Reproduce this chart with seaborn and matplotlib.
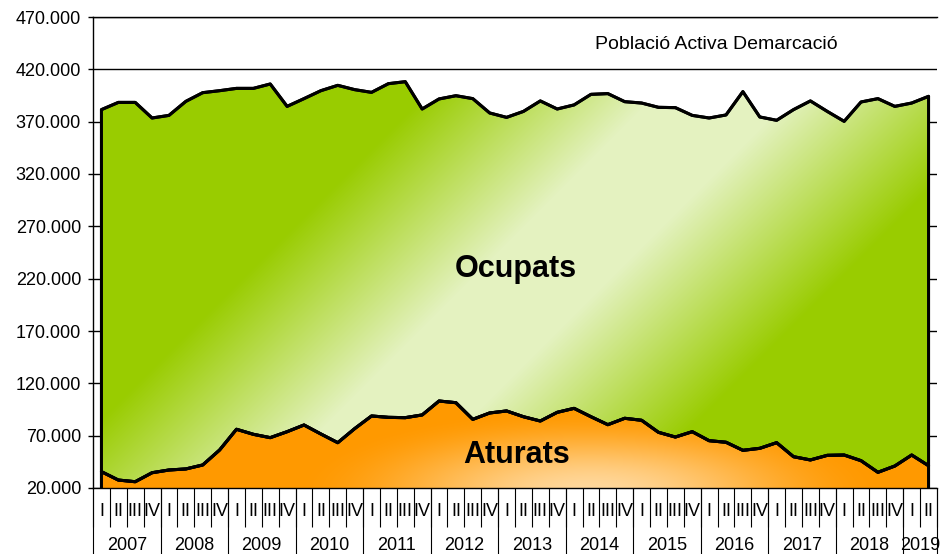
import numpy as np
import pandas as pd
import matplotlib
matplotlib.use("Agg")
import matplotlib.pyplot as plt
from matplotlib.colors import to_rgb
from matplotlib.ticker import FuncFormatter
import seaborn as sns

# Dades llegides del gràfic (trimestres 2007-I a 2019-II)
years = [str(y) for y in range(2007, 2020)]
quarters = ["I", "II", "III", "IV"]

aturats = [35600, 27600, 26000, 34600, 37200, 38200, 42000, 56300, 76100, 71300,
           68100, 73800, 80200, 71600, 63300, 76700, 88800, 87500, 87200, 89800,
           103100, 101500, 85600, 91700, 93600, 88100, 84000, 92300, 96100, 88100,
           80500, 86600, 84700, 73200, 68700, 73800, 65200, 63700, 56000, 57900,
           63300, 49900, 46800, 51200, 51500, 46100, 35000, 41000, 51500, 41300]
ocupats = [345900, 360800, 362400, 338900, 338800, 351200, 355700, 343300, 325700, 330500,
           337900, 310800, 311800, 328000, 341400, 323900, 309200, 318800, 321000, 292300,
           288600, 293300, 306400, 286600, 280500, 291700, 305800, 289800, 289900, 308000,
           316300, 302500, 303100, 310500, 314700, 302200, 308300, 312700, 342700, 316600,
           308000, 331600, 343000, 328600, 318800, 342700, 357000, 343600, 336300, 352900]

title = "Població Activa Demarcació"
yticks = list(range(20000, 470001, 50000))

verd = "#99CC00"
verd_clar = "#E4F2C0"
taronja = "#FF9900"
taronja_clar = "#FFD89C"

sns.set_theme(style="white")
plt.rcParams["font.family"] = ["Liberation Sans", "DejaVu Sans"]
plt.rcParams.update({"text.color": "black", "xtick.color": "black",
                     "ytick.color": "black", "axes.labelcolor": "black"})

n = len(aturats)
x = np.arange(n)
df = pd.DataFrame({"x": x, "aturats": aturats,
                   "actius": np.add(aturats, ocupats)})

fig = plt.figure(figsize=(9.42, 5.54), dpi=100)
ax = fig.add_axes([93 / 942, 66 / 554, 844 / 942, 471 / 554])
ymin, ymax = yticks[0], yticks[-1]

# degradats (en píxels de l'eix)
W, H = 844, 471
PX, PY = np.meshgrid(93 + np.arange(W) + 0.5, 17 + np.arange(H) + 0.5)

s = (PX + PY - 820) / 300
f = np.clip(1.3 * (1 - np.abs(s)), 0, 1)
g0, g1 = np.array(to_rgb(verd)), np.array(to_rgb(verd_clar))
img_verd = g0 + (g1 - g0) * f[..., None]

r = np.sqrt(((PX - 590) / 300) ** 2 + ((PY - 492) / 85) ** 2)
f2 = np.clip(1 - r, 0, 1)
f2 = f2 * f2 * (3 - 2 * f2)
o0, o1 = np.array(to_rgb(taronja)), np.array(to_rgb(taronja_clar))
img_tar = o0 + (o1 - o0) * f2[..., None]

ext = (-0.5, n - 0.5, ymin, ymax)
poly_oc = ax.fill_between(df["x"], df["aturats"], df["actius"], facecolor="none",
                          edgecolor="black", lw=2.2, zorder=3)
poly_at = ax.fill_between(df["x"], 0, df["aturats"], facecolor="none",
                          edgecolor="black", lw=2.2, zorder=3)
im1 = ax.imshow(img_verd, extent=ext, origin="upper", aspect="auto", zorder=1)
im1.set_clip_path(poly_oc.get_paths()[0], transform=ax.transData)
im2 = ax.imshow(img_tar, extent=ext, origin="upper", aspect="auto", zorder=1)
im2.set_clip_path(poly_at.get_paths()[0], transform=ax.transData)

sns.lineplot(data=df, x="x", y="actius", color="black", lw=2.2, ax=ax, zorder=4)
sns.lineplot(data=df, x="x", y="aturats", color="black", lw=2.2, ax=ax, zorder=4)
ax.set_xlabel("")
ax.set_ylabel("")

ax.set_xlim(-0.5, n - 0.5)
ax.set_ylim(ymin, ymax)

# eix Y
ax.set_yticks(yticks)
ax.yaxis.set_major_formatter(FuncFormatter(lambda v, _: f"{int(v):,}".replace(",", ".")))
ax.yaxis.grid(True, color="black", lw=1.0)
ax.xaxis.grid(False)
ax.set_axisbelow(True)
ax.tick_params(axis="y", left=True, direction="out", length=3.6, width=1,
               labelsize=13, pad=5)

# eix X: trimestres
ax.set_xticks(x, labels=[quarters[i % 4] for i in range(n)])
ax.tick_params(axis="x", which="major", bottom=True, length=0, pad=10.5, labelsize=13)
ax.set_xticks(np.arange(-0.5, n, 1), minor=True)
ax.tick_params(axis="x", which="minor", bottom=True, direction="out",
               length=28, width=0.8, color="black")

# eix X: anys
bounds = list(np.arange(-0.5, n, 4)) + [n - 0.5]
centers = [(bounds[i] + bounds[i + 1]) / 2 for i in range(len(bounds) - 1)]
sec = ax.secondary_xaxis("bottom")
sec.set_xticks(centers, labels=years)
sec.tick_params(axis="x", which="major", bottom=True, length=0, pad=35, labelsize=13)
sec.set_xticks(bounds, minor=True)
sec.tick_params(axis="x", which="minor", bottom=True, direction="out",
                length=47.5, width=0.8, color="black")
sec.spines["bottom"].set_visible(False)

for side in ["left", "bottom", "top"]:
    ax.spines[side].set_color("black")
    ax.spines[side].set_linewidth(1.0)
ax.spines["right"].set_visible(False)

ax.text(0.738, 0.9406, title, transform=ax.transAxes, ha="center", va="center",
        fontsize=14)
ax.text(0.501, 0.4486, "Ocupats", transform=ax.transAxes, ha="center",
        va="baseline", fontsize=22, fontweight="bold", zorder=5)
ax.text(0.502, 0.0524, "Aturats", transform=ax.transAxes, ha="center",
        va="baseline", fontsize=22, fontweight="bold", zorder=5)

fig.savefig("out.png", dpi=100)
